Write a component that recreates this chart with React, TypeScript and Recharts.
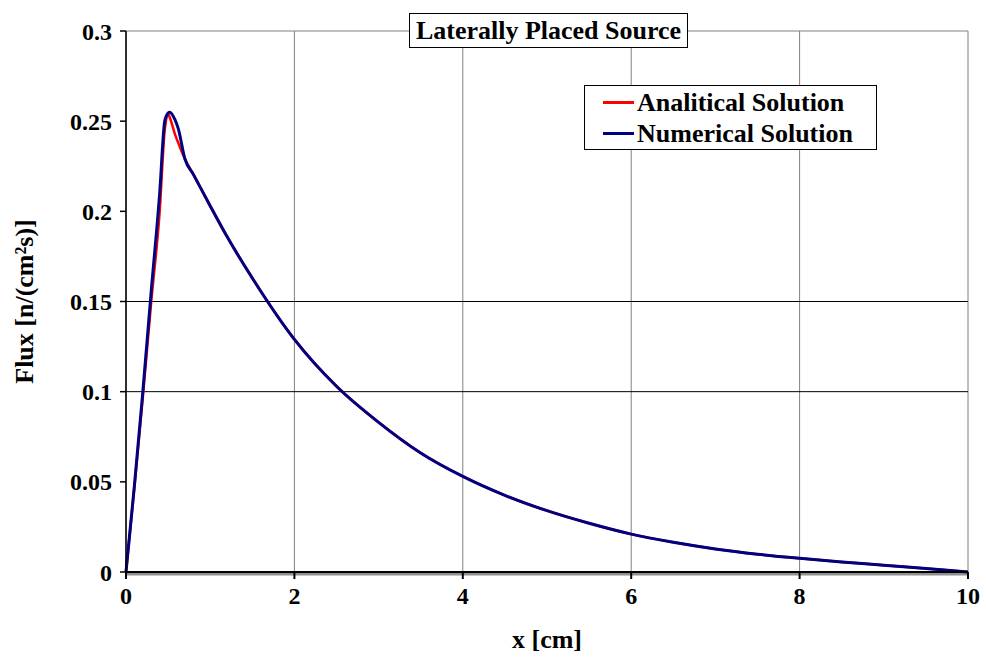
import { LineChart, Line, XAxis, YAxis, CartesianGrid, ReferenceLine } from 'recharts'

const xValues = [0, 0.1, 0.2, 0.3, 0.4, 0.46, 0.5, 0.52, 0.58, 0.62, 0.7, 0.8, 1.0, 1.2, 1.5, 2.0, 2.5, 3.0, 3.5, 4.0, 4.5, 5.0, 5.5, 6.0, 6.5, 7.0, 7.5, 8.0, 8.5, 9.0, 9.5, 10]
const analytical = [0, 0.047, 0.097, 0.15, 0.2, 0.245, 0.254, 0.252, 0.243, 0.238, 0.229, 0.2205, 0.203, 0.186, 0.163, 0.129, 0.103, 0.083, 0.066, 0.053, 0.0425, 0.034, 0.027, 0.021, 0.0165, 0.0128, 0.0099, 0.0076, 0.0056, 0.0038, 0.0019, 0]
const numerical = [0, 0.048, 0.1, 0.156, 0.21, 0.25, 0.2545, 0.255, 0.251, 0.246, 0.229, 0.2205, 0.203, 0.186, 0.163, 0.129, 0.103, 0.083, 0.066, 0.053, 0.0425, 0.034, 0.027, 0.021, 0.0165, 0.0128, 0.0099, 0.0076, 0.0056, 0.0038, 0.0019, 0]

const xTicks = [0, 2, 4, 6, 8, 10]
const yTicks = [0, 0.05, 0.1, 0.15, 0.2, 0.25, 0.3]
const darkGridY = [0.1, 0.15]
const seriesInfo = [
  { key: 'analytical', label: 'Analitical Solution', color: '#ff0000', width: 2.5 },
  { key: 'numerical', label: 'Numerical Solution', color: '#000080', width: 3 },
]

const data = xValues.map((x, i) => ({ x, analytical: analytical[i], numerical: numerical[i] }))

const font = '"Liberation Serif", "Times New Roman", serif'
const tickStyle = { fontFamily: font, fontWeight: 700, fontSize: 24, fill: '#000' }
const labelStyle = { fontFamily: font, fontWeight: 700, fontSize: 26, fill: '#000', textAnchor: 'middle' as const }

export default function App() {
  return (
    <div style={{ position: 'absolute', left: 0, top: 0, width: 986, height: 660, background: '#fff' }}>
      <LineChart width={986} height={660} data={data} margin={{ top: 31, right: 18, bottom: 0, left: 0 }}>
        <CartesianGrid vertical horizontal={false} stroke="#808080" strokeWidth={1} />
        <ReferenceLine y={0.3} stroke="#808080" />
        {darkGridY.map((y) => (
          <ReferenceLine key={y} y={y} stroke="#000" strokeWidth={1} />
        ))}
        <ReferenceLine y={0} stroke="#909090" strokeWidth={3} transform="translate(0,2)" />
        <XAxis
          dataKey="x"
          type="number"
          domain={[0, 10]}
          ticks={xTicks}
          height={88}
          tick={tickStyle}
          tickSize={7}
          tickMargin={8}
          axisLine={{ stroke: '#000', strokeWidth: 2 }}
          tickLine={{ stroke: '#000', strokeWidth: 2 }}
          label={{ value: 'x [cm]', position: 'insideBottom', offset: 12, style: labelStyle }}
        />
        <YAxis
          type="number"
          domain={[0, 0.3]}
          ticks={yTicks}
          width={126}
          tick={tickStyle}
          tickSize={6}
          tickMargin={8}
          axisLine={{ stroke: '#000', strokeWidth: 1.5 }}
          tickLine={{ stroke: '#000', strokeWidth: 1.5 }}
          label={{ value: 'Flux [n/(cm²s)]', angle: -90, position: 'insideLeft', offset: 24, style: labelStyle }}
        />
        {seriesInfo.map((s) => (
          <Line key={s.key} type="monotone" dataKey={s.key} name={s.label} stroke={s.color} strokeWidth={s.width} dot={false} isAnimationActive={false} />
        ))}
      </LineChart>
      <div
        style={{
          position: 'absolute', left: 409, top: 13, width: 279, height: 35, boxSizing: 'border-box',
          border: '1px solid #000', background: '#fff', fontFamily: font, fontWeight: 700, fontSize: 26,
          display: 'flex', alignItems: 'center', justifyContent: 'center',
        }}
      >
        Laterally Placed Source
      </div>
      <div
        style={{
          position: 'absolute', left: 584, top: 85, width: 293, height: 65, boxSizing: 'border-box',
          border: '1px solid #000', background: '#fff', padding: '1px 0 0 18px',
        }}
      >
        {seriesInfo.map((s) => (
          <div key={s.key} style={{ display: 'flex', alignItems: 'center', height: 31 }}>
            <div style={{ width: 31, height: 3, background: s.color, marginRight: 3 }} />
            <span style={{ fontFamily: font, fontWeight: 700, fontSize: 26, color: '#000', whiteSpace: 'nowrap' }}>{s.label}</span>
          </div>
        ))}
      </div>
    </div>
  )
}
